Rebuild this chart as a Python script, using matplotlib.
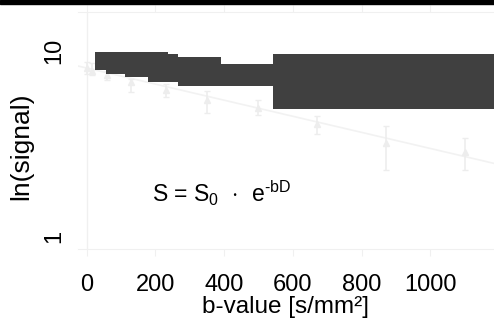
import matplotlib
matplotlib.use("Agg")
import matplotlib.pyplot as plt
from matplotlib.patches import Rectangle

plt.rcParams['font.family'] = ['Liberation Sans', 'DejaVu Sans']
plt.rcParams['mathtext.fontset'] = 'custom'
plt.rcParams['mathtext.rm'] = 'Liberation Sans'
plt.rcParams['mathtext.it'] = 'Liberation Sans'

# messpunkte (b-wert, signal, fehler unten/oben)
b_werte = [0, 15, 60, 130, 230, 350, 500, 670, 870, 1100]
signal = [8.09, 7.77, 7.39, 6.80, 6.18, 5.45, 4.95, 4.02, 3.17, 2.83]
err_unten = [0.62, 0.32, 0.39, 0.80, 0.56, 0.83, 0.44, 0.47, 0.90, 0.56]
err_oben = [0.60, 0.84, 0.41, 0.28, 0.45, 0.65, 0.46, 0.45, 0.78, 0.54]

# fit-gerade (endpunkte)
fit_b = [-25, 1185]
fit_s = [8.3, 2.47]

# dunkle balken: links, rechts, unten, oben
balken_links = [24, 56, 111, 178, 237, 266, 391, 541]
balken_rechts = [56, 111, 178, 237, 266, 391, 541, 1200]
balken_unten = [7.9, 7.54, 7.21, 6.82, 6.82, 6.45, 6.45, 4.86]
balken_oben = [9.91, 9.91, 9.91, 9.91, 9.63, 9.31, 8.51, 9.63]

x_ticks = [0, 200, 400, 600, 800, 1000]
y_ticks = [1, 10]

hell = "#ededed"

fig = plt.figure(figsize=(4.94, 3.27), dpi=100)
ax = fig.add_axes([78 / 494, 1 - 249 / 327, 1 - 78 / 494, (249 - 12) / 327])
ax.set_yscale("log")

ax.plot(fit_b, fit_s, color="#f2f2f2", lw=1.2, zorder=1)
ax.errorbar(b_werte, signal, yerr=[err_unten, err_oben], fmt="^", color=hell,
            ms=4, elinewidth=1.2, capsize=2.5, zorder=2)

breiten = [r - l for l, r in zip(balken_links, balken_rechts)]
hoehen = [o - u for u, o in zip(balken_unten, balken_oben)]
ax.bar(balken_links, hoehen, width=breiten, bottom=balken_unten, align="edge",
       color="#404040", linewidth=0, zorder=3)

ax.axvline(0, color="#f0f0f0", lw=1, zorder=0)

ax.set_xlim(-25, 1185)
ax.set_ylim(0.851, 16.25)
ax.set_xticks(x_ticks)
ax.set_yticks(y_ticks)
ax.set_yticklabels([str(v) for v in y_ticks], rotation=90, va="center")
ax.yaxis.set_minor_locator(matplotlib.ticker.NullLocator())

for s in ["left", "right"]:
    ax.spines[s].set_visible(False)
for s in ["top", "bottom"]:
    ax.spines[s].set_color("#f0f0f0")

ax.tick_params(axis="x", which="both", top=True, direction="out", length=5,
               color="#f0f0f0", labelsize=17, pad=13)
ax.tick_params(axis="y", length=0, labelsize=17, pad=9)

ax.set_xlabel("b-value [s/mm²]", fontsize=17.5, labelpad=0)
ax.set_ylabel("ln(signal)", fontsize=19)
lab = ax.yaxis.label
lab.set_rotation_mode("default")
lab.set_ha("center")
lab.set_va("center")
ax.yaxis.set_label_coords((21.5 - 78) / 416, (249 - 146.5) / 237)

# gleichung, etwas breiter gesetzt wie im original
ax.text(189, 1.70, r"S = S$_0$ $\,\cdot\,$ e$^{\text{-bD}}$", fontsize=16.5,
        ha="left", va="center")

# schwarzer streifen oben
fig.patches.append(Rectangle((0, 1 - 4 / 327), 1, 4 / 327, transform=fig.transFigure,
                             color="black", zorder=10))

fig.savefig("out.png", dpi=100)
